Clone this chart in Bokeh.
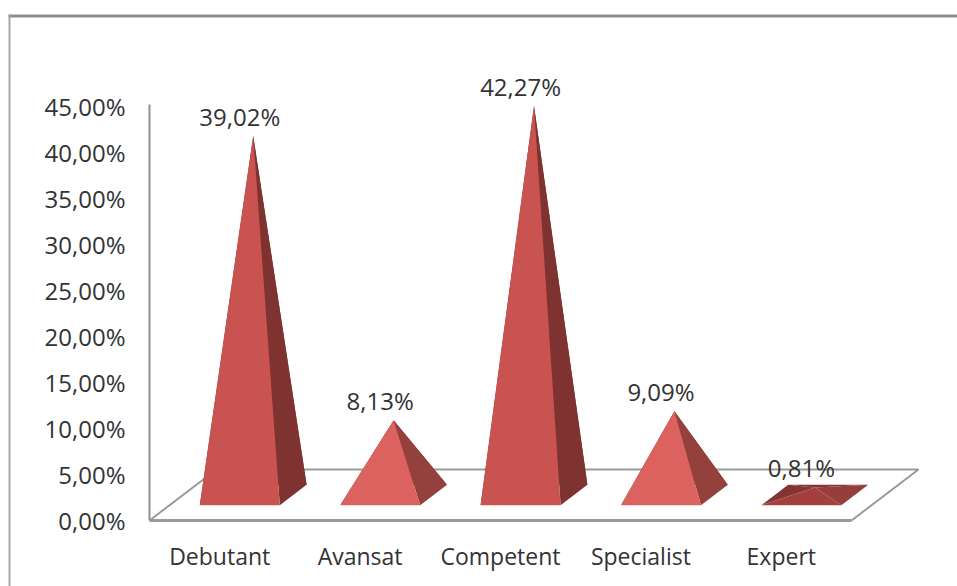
from bokeh.embed import file_html
from bokeh.models import BoxAnnotation, FixedTicker, LinearAxis, Range1d
from bokeh.plotting import figure
from bokeh.resources import INLINE

categories = ["Debutant", "Avansat", "Competent", "Specialist", "Expert"]
values = [39.02, 8.13, 42.27, 9.09, 0.81]
value_labels = ["39,02%", "8,13%", "42,27%", "9,09%", "0,81%"]
y_ticks = [0, 5, 10, 15, 20, 25, 30, 35, 40, 45]
y_tick_labels = ["0,00%", "5,00%", "10,00%", "15,00%", "20,00%",
                 "25,00%", "30,00%", "35,00%", "40,00%", "45,00%"]

# Shaded colours of each pyramid's faces: they depend on how steep the slope is.
front_colors = ["#c95350", "#dc6260", "#c95350", "#dc6260", "#a3403e"]
side_colors = ["#7f3331", "#94403d", "#7f3331", "#94403d", "#963e3c"]
rear_colors = ["#7f3331", "#7f3331", "#7f3331", "#7f3331", "#843432"]

WIDTH, HEIGHT = 957, 586
PX_PER_CATEGORY = 140.4
PX_PER_PERCENT = 9.2
ORIGIN_X, ORIGIN_Y = 219.2, 520
TEXT_COLOR = "#333333"

# Oblique projection: full depth of the floor, expressed in axis units.
DEPTH_X = 67 / PX_PER_CATEGORY
DEPTH_Y = 51 / PX_PER_PERCENT
HALF_BASE = 40 / PX_PER_CATEGORY
NEAR, MID, FAR = 0.3, 0.5, 0.7


def project(cat, depth, val=0.0):
    return cat + depth * DEPTH_X, val + depth * DEPTH_Y


p = figure(
    width=WIDTH, height=HEIGHT, output_backend="svg", toolbar_location=None,
    x_range=Range1d(-ORIGIN_X / PX_PER_CATEGORY, (WIDTH - ORIGIN_X) / PX_PER_CATEGORY),
    y_range=Range1d((ORIGIN_Y - HEIGHT) / PX_PER_PERCENT, ORIGIN_Y / PX_PER_PERCENT),
    x_axis_location=None, y_axis_location=None, min_border=0,
)
p.grid.visible = False
p.outline_line_color = None
p.background_fill_color = "white"

# Outer frame of the chart area, running off the top right of the page.
# Screen units on box edges count from the bottom of the canvas.
screen = dict(left_units="screen", right_units="screen", top_units="screen", bottom_units="screen")
p.add_layout(BoxAnnotation(left=8, right=WIDTH, top=HEIGHT - 14, bottom=HEIGHT - 17,
                           fill_color="#8f8f8f", fill_alpha=1, line_color=None, **screen))
p.add_layout(BoxAnnotation(left=8, right=10, top=HEIGHT - 14, bottom=0,
                           fill_color="#a8a8a8", fill_alpha=1, line_color=None, **screen))

# Floor of the 3D box.
n = len(categories)
corners = [project(-0.5, 0), project(n - 0.5, 0), project(n - 0.5, 1), project(-0.5, 1)]
p.line([c[0] for c in corners[1:] + corners[:1]], [c[1] for c in corners[1:] + corners[:1]],
       line_color="#9a9a9a", line_width=2)

# Pyramids: rear faces first so that the near faces overlap them.
for i, v in enumerate(values):
    fl = project(i - HALF_BASE, NEAR)
    fr = project(i + HALF_BASE, NEAR)
    bl = project(i - HALF_BASE, FAR)
    br = project(i + HALF_BASE, FAR)
    apex = project(i, MID, v)
    faces = [
        ([bl, br, apex], rear_colors[i]),
        ([fl, bl, apex], rear_colors[i]),
        ([fr, br, apex], side_colors[i]),
        ([fl, fr, apex], front_colors[i]),
    ]
    for pts, color in faces:
        p.patch([q[0] for q in pts], [q[1] for q in pts], fill_color=color, line_color=None)

# Value axis, standing at the left corner of the floor.
y_axis = LinearAxis(
    fixed_location=-0.5, bounds=(0, 45.2), ticker=FixedTicker(ticks=y_ticks),
    major_label_overrides=dict(zip(y_ticks, y_tick_labels)),
    major_tick_line_color=None, minor_tick_line_color=None,
    axis_line_color="#909090", axis_line_width=2,
    major_label_standoff=18, major_label_text_font="Open Sans",
    major_label_text_font_size="24px", major_label_text_color=TEXT_COLOR,
)
p.add_layout(y_axis, "left")

# Category axis, along the front edge of the floor.
x_ticks = list(range(n))
x_axis = LinearAxis(
    fixed_location=0, bounds=(-0.5, n - 0.5), ticker=FixedTicker(ticks=x_ticks),
    major_label_overrides=dict(zip(x_ticks, categories)),
    major_tick_line_color=None, minor_tick_line_color=None,
    axis_line_color="#9a9a9a", axis_line_width=3,
    major_label_standoff=13, major_label_text_font="Open Sans",
    major_label_text_font_size="23px", major_label_text_color=TEXT_COLOR,
)
p.add_layout(x_axis, "below")

# Value labels above each apex.
label_x = [project(i, NEAR, v)[0] for i, v in enumerate(values)]
label_y = [project(i, NEAR, v)[1] for i, v in enumerate(values)]
p.text(
    label_x, label_y, text=value_labels, text_font={"value": "Open Sans"},
    text_font_size={"value": "24px"}, text_color=TEXT_COLOR,
    text_align="center", text_baseline="middle", y_offset=-30,
)

open("out.html", "w").write(file_html(p, INLINE))
